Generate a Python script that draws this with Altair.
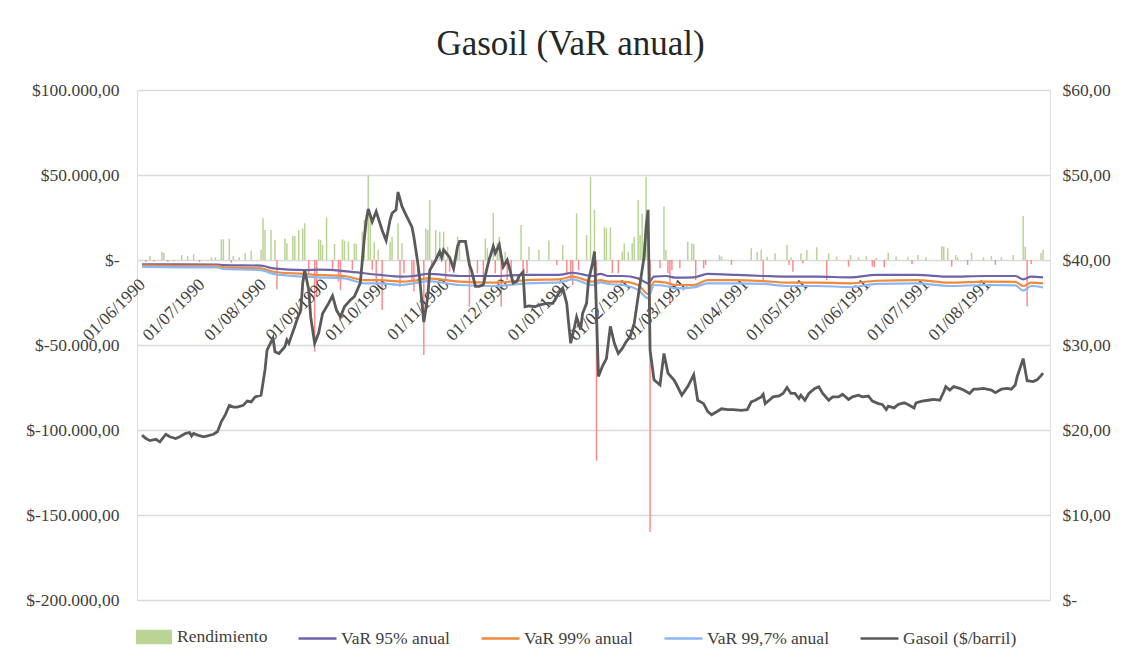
import altair as alt
import pandas as pd

SERIF = "Liberation Serif"
FS = 17.5

# ---- Gasoil price ($/barril), right axis ----
price_dates = [
    "1990-06-01", "1990-06-03", "1990-06-05", "1990-06-08", "1990-06-10", "1990-06-13", "1990-06-15",
    "1990-06-18", "1990-06-20", "1990-06-23", "1990-06-25", "1990-06-26", "1990-06-27", "1990-06-29",
    "1990-07-02", "1990-07-04", "1990-07-07", "1990-07-09", "1990-07-11", "1990-07-13", "1990-07-15",
    "1990-07-17", "1990-07-19", "1990-07-22", "1990-07-24", "1990-07-26", "1990-07-28", "1990-07-31",
    "1990-08-02", "1990-08-03", "1990-08-06", "1990-08-07", "1990-08-09", "1990-08-12", "1990-08-13",
    "1990-08-14", "1990-08-17", "1990-08-18", "1990-08-20", "1990-08-21", "1990-08-22", "1990-08-24",
    "1990-08-25", "1990-08-27", "1990-08-29", "1990-08-31", "1990-09-03", "1990-09-05", "1990-09-07",
    "1990-09-09", "1990-09-11", "1990-09-14", "1990-09-16", "1990-09-19", "1990-09-21", "1990-09-22",
    "1990-09-23", "1990-09-25", "1990-09-27", "1990-09-30", "1990-10-02", "1990-10-04", "1990-10-05",
    "1990-10-07", "1990-10-08", "1990-10-10", "1990-10-12", "1990-10-15", "1990-10-16", "1990-10-18",
    "1990-10-19", "1990-10-21", "1990-10-23", "1990-10-24", "1990-10-27", "1990-10-29", "1990-10-30",
    "1990-10-31", "1990-11-03", "1990-11-05", "1990-11-07", "1990-11-08", "1990-11-11", "1990-11-13",
    "1990-11-14", "1990-11-16", "1990-11-18", "1990-11-20", "1990-11-22", "1990-11-23", "1990-11-25",
    "1990-11-26", "1990-11-28", "1990-11-30", "1990-12-02", "1990-12-03", "1990-12-05", "1990-12-07",
    "1990-12-08", "1990-12-10", "1990-12-11", "1990-12-13", "1990-12-16", "1990-12-18", "1990-12-22",
    "1990-12-25", "1990-12-28", "1990-12-30", "1991-01-01", "1991-01-02", "1991-01-03", "1991-01-05",
    "1991-01-06", "1991-01-08", "1991-01-09", "1991-01-11", "1991-01-12", "1991-01-14", "1991-01-15",
    "1991-01-17", "1991-01-19", "1991-01-21", "1991-01-23", "1991-01-25", "1991-01-27", "1991-01-29",
    "1991-01-31", "1991-02-02", "1991-02-04", "1991-02-06", "1991-02-09", "1991-02-10", "1991-02-11",
    "1991-02-12", "1991-02-14", "1991-02-16", "1991-02-17", "1991-02-19", "1991-02-21", "1991-02-24",
    "1991-02-25", "1991-02-28", "1991-03-03", "1991-03-06", "1991-03-08", "1991-03-11", "1991-03-13",
    "1991-03-15", "1991-03-18", "1991-03-20", "1991-03-23", "1991-03-26", "1991-03-30", "1991-04-02",
    "1991-04-04", "1991-04-06", "1991-04-09", "1991-04-10", "1991-04-11", "1991-04-13", "1991-04-15",
    "1991-04-18", "1991-04-20", "1991-04-22", "1991-04-24", "1991-04-26", "1991-04-28", "1991-04-29",
    "1991-05-01", "1991-05-03", "1991-05-06", "1991-05-08", "1991-05-10", "1991-05-13", "1991-05-15",
    "1991-05-18", "1991-05-20", "1991-05-23", "1991-05-25", "1991-05-28", "1991-05-30", "1991-06-02",
    "1991-06-04", "1991-06-07", "1991-06-09", "1991-06-11", "1991-06-12", "1991-06-15", "1991-06-17",
    "1991-06-20", "1991-06-22", "1991-06-25", "1991-06-26", "1991-06-29", "1991-07-02", "1991-07-05",
    "1991-07-08", "1991-07-10", "1991-07-11", "1991-07-13", "1991-07-15", "1991-07-18", "1991-07-20",
    "1991-07-23", "1991-07-25", "1991-07-27", "1991-07-30", "1991-08-03", "1991-08-05", "1991-08-08",
    "1991-08-11", "1991-08-13", "1991-08-15", "1991-08-16", "1991-08-19", "1991-08-20", "1991-08-21",
    "1991-08-24", "1991-08-26", "1991-08-28", "1991-08-29",
]
price_values = [
    19.4, 19.0, 18.75, 18.9, 18.6, 19.5, 19.2,
    19.0, 19.2, 19.6, 19.7, 19.3, 19.6, 19.4,
    19.2, 19.3, 19.5, 19.8, 21.0, 21.8, 22.9,
    22.7, 22.7, 22.9, 23.4, 23.3, 23.9, 24.1,
    27.1, 29.4, 30.8, 29.2, 29.0, 29.8, 30.6,
    30.2, 32.2, 32.9, 34.1, 37.3, 38.8, 36.5,
    33.3, 30.2, 31.4, 33.7, 34.9, 35.8, 34.1,
    33.3, 34.5, 35.3, 35.7, 37.3, 42.5, 44.7,
    46.0, 44.5, 45.7, 43.5, 42.3, 44.7, 45.5,
    45.9, 48.0, 46.3, 45.3, 43.9, 42.7, 39.6,
    37.6, 32.7, 35.7, 38.8, 40.0, 41.0, 40.3,
    41.2, 40.3, 39.0, 41.6, 42.2, 42.2, 39.4,
    38.8, 36.9, 36.9, 37.1, 39.2, 40.1, 41.6,
    40.8, 41.8, 39.2, 40.0, 39.2, 37.3, 37.5,
    38.1, 38.6, 34.5, 34.6, 34.5, 34.7, 34.9,
    34.9, 36.1, 36.7, 34.9, 32.5, 30.2, 32.2,
    33.3, 31.8, 33.7, 34.9, 37.6, 39.6, 41.0,
    26.3, 27.5, 28.4, 32.2, 30.2, 29.0, 29.6,
    30.4, 31.0, 32.5, 35.7, 40.4, 43.9, 45.9,
    29.4, 25.9, 25.5, 25.3, 29.0, 26.7, 25.9,
    25.5, 24.1, 25.1, 26.5, 23.5, 23.1, 22.2,
    21.8, 22.2, 22.5, 22.4, 22.4, 22.3, 22.4,
    23.3, 23.5, 23.9, 24.2, 23.1, 23.5, 23.9,
    24.0, 24.3, 25.0, 24.3, 24.3, 23.7, 24.1,
    23.5, 24.3, 24.9, 25.1, 24.3, 23.5, 23.9,
    23.9, 24.2, 23.6, 23.9, 24.1, 23.9, 24.0,
    23.4, 23.1, 23.0, 22.4, 22.8, 22.6, 23.0,
    23.2, 23.0, 22.6, 23.2, 23.4, 23.5, 23.6,
    23.5, 24.5, 25.1, 24.7, 25.1, 24.9, 24.7,
    24.3, 24.8, 24.8, 24.9, 24.7, 24.4, 24.8,
    24.9, 24.8, 25.3, 26.3, 28.4, 27.1, 25.8,
    25.7, 25.9, 26.4, 26.7,
]

# ---- Rendimiento (daily result, $), left axis ----
bar_dates = [
    "1990-06-03", "1990-06-05", "1990-06-07", "1990-06-11", "1990-06-12", "1990-06-14", "1990-06-17",
    "1990-06-21", "1990-06-24", "1990-06-27", "1990-06-30", "1990-07-06", "1990-07-08", "1990-07-11",
    "1990-07-12", "1990-07-15", "1990-07-16", "1990-07-17", "1990-07-20", "1990-07-23", "1990-07-26",
    "1990-07-31", "1990-08-01", "1990-08-02", "1990-08-05", "1990-08-07", "1990-08-08", "1990-08-12",
    "1990-08-13", "1990-08-16", "1990-08-17", "1990-08-19", "1990-08-21", "1990-08-22", "1990-08-24",
    "1990-08-27", "1990-08-28", "1990-08-29", "1990-08-30", "1990-08-31", "1990-09-02", "1990-09-05",
    "1990-09-06", "1990-09-08", "1990-09-09", "1990-09-10", "1990-09-11", "1990-09-13", "1990-09-15",
    "1990-09-16", "1990-09-17", "1990-09-20", "1990-09-21", "1990-09-23", "1990-09-24", "1990-09-25",
    "1990-09-26", "1990-09-27", "1990-09-28", "1990-09-30", "1990-10-04", "1990-10-05", "1990-10-08",
    "1990-10-09", "1990-10-10", "1990-10-11", "1990-10-15", "1990-10-16", "1990-10-18", "1990-10-21",
    "1990-10-22", "1990-10-23", "1990-10-24", "1990-10-25", "1990-10-27", "1990-10-29", "1990-10-31",
    "1990-11-01", "1990-11-02", "1990-11-03", "1990-11-07", "1990-11-08", "1990-11-12", "1990-11-13",
    "1990-11-17", "1990-11-20", "1990-11-21", "1990-11-22", "1990-11-25", "1990-11-26", "1990-11-27",
    "1990-11-28", "1990-11-29", "1990-12-01", "1990-12-02", "1990-12-04", "1990-12-09", "1990-12-10",
    "1990-12-12", "1990-12-13", "1990-12-18", "1990-12-23", "1990-12-27", "1990-12-30", "1991-01-01",
    "1991-01-03", "1991-01-04", "1991-01-06", "1991-01-07", "1991-01-11", "1991-01-13", "1991-01-15",
    "1991-01-16", "1991-01-20", "1991-01-21", "1991-01-23", "1991-01-24", "1991-01-27", "1991-01-29",
    "1991-01-30", "1991-02-01", "1991-02-03", "1991-02-04", "1991-02-06", "1991-02-07", "1991-02-08",
    "1991-02-09", "1991-02-10", "1991-02-12", "1991-02-17", "1991-02-19", "1991-02-20", "1991-02-21",
    "1991-02-22", "1991-02-23", "1991-02-27", "1991-03-03", "1991-03-05", "1991-03-06", "1991-03-07",
    "1991-03-11", "1991-03-12", "1991-03-19", "1991-03-20", "1991-03-25", "1991-04-04", "1991-04-07",
    "1991-04-09", "1991-04-10", "1991-04-12", "1991-04-16", "1991-04-22", "1991-04-23", "1991-04-24",
    "1991-04-25", "1991-04-29", "1991-04-30", "1991-05-02", "1991-05-07", "1991-05-12", "1991-05-13",
    "1991-05-17", "1991-05-23", "1991-05-24", "1991-05-28", "1991-06-01", "1991-06-04", "1991-06-05",
    "1991-06-06", "1991-06-10", "1991-06-12", "1991-06-16", "1991-06-22", "1991-06-24", "1991-06-27",
    "1991-07-01", "1991-07-09", "1991-07-10", "1991-07-12", "1991-07-14", "1991-07-16", "1991-07-17",
    "1991-07-22", "1991-07-24", "1991-07-30", "1991-08-03", "1991-08-05", "1991-08-08", "1991-08-14",
    "1991-08-19", "1991-08-20", "1991-08-21", "1991-08-23", "1991-08-28", "1991-08-29",
]
bar_values = [
    -1200, 2350, -800, 4900, 4300, -1000, -600,
    2900, 2350, 3500, -1200, 1600, 1600, 12150,
    12150, 12500, -1600, 2350, 1600, 3900, 5500,
    5900, 24500, 17600, 17600, 11800, -17200, 12700,
    9800, 14300, 14100, 17600, 18600, 21600, -7800,
    -53900, -21600, 12150, 11800, 8800, 24900, -5900,
    9400, -12700, -17600, 12150, 11400, 10800, -5900,
    9800, 9400, 16700, 23500, 50000, 25500, -5900,
    10800, -14700, 5900, -29400, 10800, 13700, 21600,
    -15700, 9800, -7800, -11800, -18600, -7800, -55900,
    18600, 17600, 35300, -3900, 17600, 16700, 16700,
    -11800, 7800, -6900, 13700, 10800, 5900, -27400,
    -7800, -11800, 12700, 6900, 27800, -7800, 9800,
    13700, -27400, 4900, -11800, -10800, 20600, -5900,
    -7800, 7800, 5900, 11400, -2900, 8800, -7800,
    -11800, -14700, 27400, -5900, 14700, 49000, 29400,
    -118000, 19200, 18600, 19200, -7800, -7800, 4900,
    9800, 4900, 9800, 13700, 35300, 14700, 27400,
    10800, 49000, -160000, -4900, 31400, 5900, -7800,
    -26500, -5900, -4900, 10800, 9800, 9400, -11800,
    -4900, -2900, 2900, 1900, -2900, 6900, 4900,
    5900, -11800, 1900, 3900, 8800, -2900, 1600,
    -6900, 3900, -1900, 5900, 7500, -11800, 3900,
    1900, -3900, 2900, 1600, 2300, -3900, -4300,
    1200, -4300, 4300, 2000, 1600, -2500, 2900,
    1600, 8200, 7800, 6900, -3900, 2900, 1600,
    -2900, 4300, 1600, 2300, -2900, 1600, 2900,
    25900, 7800, -27400, -2400, 4300, 5900,
]

# ---- VaR series ($), left axis ----
var_dates = [
    "1990-06-01", "1990-06-21", "1990-07-09", "1990-07-12", "1990-07-31", "1990-08-06", "1990-08-22",
    "1990-08-29", "1990-09-11", "1990-09-21", "1990-09-29", "1990-10-10", "1990-10-16", "1990-10-23",
    "1990-11-08", "1990-11-25", "1990-12-12", "1990-12-28", "1991-01-04", "1991-01-14", "1991-01-18",
    "1991-01-22", "1991-01-29", "1991-02-06", "1991-02-11", "1991-02-14", "1991-02-20", "1991-02-25",
    "1991-03-06", "1991-03-13", "1991-03-28", "1991-04-10", "1991-04-22", "1991-05-07", "1991-05-24",
    "1991-06-06", "1991-06-26", "1991-07-13", "1991-07-31", "1991-08-15", "1991-08-19", "1991-08-23",
    "1991-08-29",
]
var_95 = [
    -2500, -2600, -2700, -3000, -3300, -4900, -5900,
    -5700, -6500, -7800, -8800, -9800, -9400, -8200,
    -9400, -9400, -8800, -8800, -7500, -9400, -8200,
    -9400, -9400, -10800, -13700, -9800, -9400, -10400,
    -10200, -8200, -8800, -9400, -9800, -9800, -10200,
    -8800, -8800, -9800, -9400, -9400, -11400, -9800,
    -10200,
]
var_99 = [
    -3300, -3400, -3400, -4300, -4900, -6900, -8200,
    -8800, -9400, -11800, -11800, -12700, -12100, -10800,
    -12700, -13300, -11800, -11400, -9800, -12700, -11800,
    -12700, -12700, -14700, -20000, -12700, -13300, -14700,
    -14700, -11800, -11800, -12400, -13300, -13300, -13700,
    -12200, -11800, -13300, -12700, -12900, -15300, -13300,
    -13700,
]
var_997 = [
    -4100, -4300, -4400, -5300, -5900, -8200, -9800,
    -10200, -10800, -13700, -13700, -14700, -13700, -12400,
    -14700, -15300, -13700, -13200, -11400, -14700, -13200,
    -14100, -14700, -17600, -22500, -14700, -15300, -16700,
    -16100, -13700, -13700, -14100, -15300, -15300, -15900,
    -14100, -13700, -15300, -14700, -14900, -18000, -15300,
    -16100,
]

# ---- date-axis tick labels (month starts) ----
tick_dates = [
    "1990-06-01", "1990-07-01", "1990-08-01", "1990-09-01", "1990-10-01", "1990-11-01", "1990-12-01",
    "1991-01-01", "1991-02-01", "1991-03-01", "1991-04-01", "1991-05-01", "1991-06-01", "1991-07-01",
    "1991-08-01",
]
tick_labels = [
    "01/06/1990", "01/07/1990", "01/08/1990", "01/09/1990", "01/10/1990", "01/11/1990", "01/12/1990",
    "01/01/1991", "01/02/1991", "01/03/1991", "01/04/1991", "01/05/1991", "01/06/1991", "01/07/1991",
    "01/08/1991",
]

var_names = ["VaR 95% anual", "VaR 99% anual", "VaR 99,7% anual"]
line_names = var_names + ["Gasoil ($/barril)"]
line_colors = ["#6C63A8", "#F08A3C", "#8DB7F2", "#5A5A5A"]

left_ticks = [-200000, -150000, -100000, -50000, 0, 50000, 100000]
right_ticks = [0, 10, 20, 30, 40, 50, 60]

bars_df = pd.DataFrame({"fecha": bar_dates, "r": bar_values, "serie": "Rendimiento"})
var_df = pd.concat(
    [pd.DataFrame({"fecha": var_dates, "v": vals, "serie": name})
     for name, vals in zip(var_names, [var_95, var_99, var_997])],
    ignore_index=True,
)
price_df = pd.DataFrame({"fecha": price_dates, "p": price_values, "serie": "Gasoil ($/barril)"})
ticks_df = pd.DataFrame({"fecha": tick_dates, "etiqueta": tick_labels})

x_scale = alt.Scale(
    domain=[alt.DateTime(year=1990, month=6, date=1), alt.DateTime(year=1991, month=8, date=30)],
    nice=False,
)

left_expr = (
    "datum.value == 0 ? '$-' : (datum.value < 0 ? '$-' : '$') + "
    "replace(replace(replace(format(abs(datum.value), ',.2f'), regexp(',', 'g'), '#'), "
    "regexp('[.]', 'g'), ','), regexp('#', 'g'), '.')"
)
left_axis = alt.Axis(
    title=None, values=left_ticks, labelExpr=left_expr, labelFont=SERIF, labelFontSize=FS,
    labelColor="#404040", ticks=False, domain=False, grid=True, gridColor="#D9D9D9",
    gridWidth=1.5, labelPadding=18,
)
left_scale = alt.Scale(domain=[-200000, 100000], nice=False, zero=False)

right_expr = "datum.value == 0 ? '$-' : '$' + replace(format(datum.value, '.2f'), '.', ',')"
right_axis = alt.Axis(
    title=None, orient="right", values=right_ticks, labelExpr=right_expr, labelFont=SERIF,
    labelFontSize=FS, labelColor="#404040", ticks=False, domain=False, grid=False, labelPadding=12,
)

fill_legend = alt.Legend(
    title=None, orient="none", legendX=-1, legendY=529,
    symbolType="M-1,-0.4H1V0.4H-1Z", symbolSize=1296, symbolStrokeWidth=0,
    labelFont=SERIF, labelFontSize=FS, labelColor="#404040", labelOffset=5,
)
stroke_legend = alt.Legend(
    title=None, orient="none", legendX=160, legendY=528, direction="horizontal", columns=4,
    columnPadding=26, symbolType="stroke", symbolSize=1444, symbolStrokeWidth=2.5,
    labelFont=SERIF, labelFontSize=FS, labelColor="#404040", labelOffset=3,
)

date_labels = alt.Chart(ticks_df).mark_text(
    angle=315, align="right", baseline="top", font=SERIF, fontSize=FS, color="#404040",
    dx=-15, dy=7,
).encode(
    x=alt.X("fecha:T", scale=x_scale, axis=None),
    y=alt.datum(0),
    text="etiqueta:N",
)

bars = alt.Chart(bars_df).mark_bar(size=1.5).encode(
    x=alt.X("fecha:T", scale=x_scale, axis=None),
    y=alt.Y("r:Q", scale=left_scale, axis=left_axis),
    fill=alt.condition(
        "datum.r < 0",
        alt.value("#FF8A8E"),
        alt.Fill("serie:N", scale=alt.Scale(domain=["Rendimiento"], range=["#B9D494"]), legend=fill_legend),
    ),
)

var_lines = alt.Chart(var_df).mark_line(strokeWidth=2.2, interpolate="monotone").encode(
    x=alt.X("fecha:T", scale=x_scale, axis=None),
    y=alt.Y("v:Q", scale=left_scale, axis=left_axis),
    stroke=alt.Stroke("serie:N", scale=alt.Scale(domain=line_names, range=line_colors), legend=stroke_legend),
    detail="serie:N",
)

gasoil = alt.Chart(price_df).mark_line(strokeWidth=2.8).encode(
    x=alt.X("fecha:T", scale=x_scale, axis=None),
    y=alt.Y("p:Q", scale=alt.Scale(domain=[0, 60], nice=False), axis=right_axis),
    stroke=alt.Stroke("serie:N", scale=alt.Scale(domain=line_names, range=line_colors), legend=stroke_legend),
)

left_layer = alt.layer(bars, date_labels, var_lines)

chart = alt.layer(left_layer, gasoil).resolve_scale(y="independent").properties(
    width=913,
    height=510,
    padding={"left": 129, "top": 82, "right": 71, "bottom": 51},
    autosize=alt.AutoSizeParams(type="none"),
    title=alt.TitleParams(
        "Gasoil (VaR anual)", font=SERIF, fontSize=35, fontWeight="normal", color="#262626",
        anchor="middle", offset=19, dx=-23,
    ),
).configure_view(strokeWidth=0).configure(background="white")

chart.save("out.html", embed_options={"renderer": "svg", "actions": False})
